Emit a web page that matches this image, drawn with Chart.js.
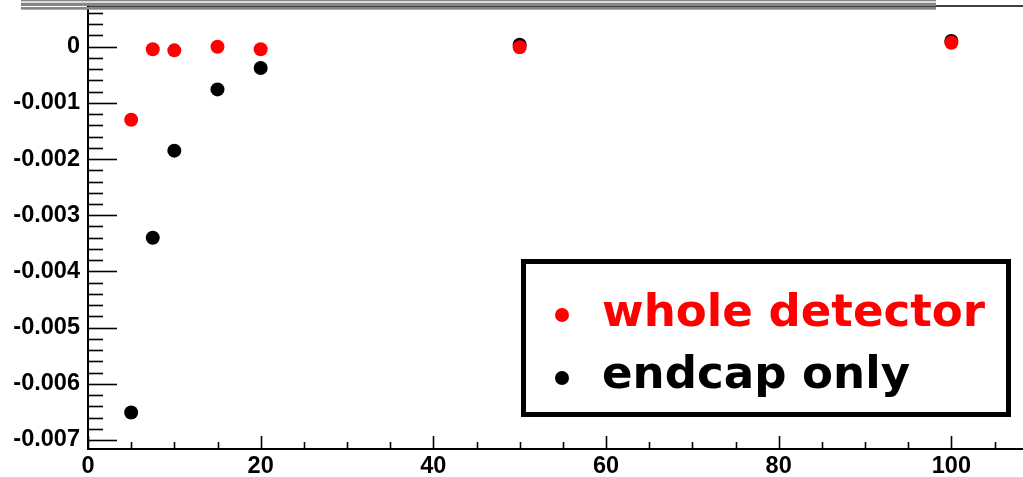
<!DOCTYPE html>
<html>
<head>
<meta charset="utf-8">
<script src="https://cdn.jsdelivr.net/npm/chart.js@4/dist/chart.umd.min.js"></script>
<style>
  html, body { margin: 0; padding: 0; background: #fff; overflow: hidden; }
  #wrap { position: relative; width: 1023px; height: 477px; }
</style>
</head>
<body>
<div id="wrap"><canvas id="c"></canvas></div>
<script>
// ---- data ----
const xValues = [5, 7.5, 10, 15, 20, 50, 100];
const wholeDetector = [-0.0013, -0.000047, -0.000065, 0.0, -0.000047, -0.00001, 0.00007];
const endcapOnly = [-0.00651, -0.0034, -0.00185, -0.00076, -0.00038, 0.000035, 0.0001];
const seriesLabels = ['whole detector', 'endcap only'];
const seriesColors = ['#ff0000', '#000000'];
const xTicks = [0, 20, 40, 60, 80, 100];
const xTickLabels = ['0', '20', '40', '60', '80', '100'];
const yTicks = [0, -0.001, -0.002, -0.003, -0.004, -0.005, -0.006, -0.007];
const yTickLabels = ['0', '-0.001', '-0.002', '-0.003', '-0.004', '-0.005', '-0.006', '-0.007'];
const xMinorStep = 5;
const yMinorStep = 0.0002;

const toPts = (xs, ys) => xs.map((x, i) => ({ x: x, y: ys[i] }));

const tickFont = { family: 'Liberation Sans', size: 23.5, weight: 'bold' };

const framePlugin = {
  id: 'frame',
  beforeDatasetsDraw(chart) {
    const ctx = chart.ctx;
    const xs = chart.scales.x, ys = chart.scales.y;
    const a = chart.chartArea;
    ctx.save();
    ctx.strokeStyle = '#000';
    // top frame line
    ctx.lineWidth = 1.5;
    ctx.beginPath(); ctx.moveTo(a.left, a.top); ctx.lineTo(a.right, a.top); ctx.stroke();
    // axes
    ctx.lineWidth = 2;
    ctx.beginPath();
    ctx.moveTo(a.left, a.top); ctx.lineTo(a.left, a.bottom); ctx.lineTo(a.right, a.bottom);
    ctx.stroke();
    // y ticks
    ctx.lineWidth = 1.6;
    const yMin = ys.min, yMax = ys.max;
    const start = Math.ceil(yMin / yMinorStep);
    const end = Math.floor(yMax / yMinorStep);
    for (let k = start; k <= end; k++) {
      const v = k * yMinorStep;
      const p = Math.round(ys.getPixelForValue(v)) + 0.5;
      const major = (k % 5 === 0);
      ctx.beginPath(); ctx.moveTo(a.left, p); ctx.lineTo(a.left + (major ? 29 : 15), p); ctx.stroke();
    }
    // x ticks
    for (let v = 0; v <= xs.max; v += xMinorStep) {
      const p = Math.round(xs.getPixelForValue(v)) + 0.5;
      const major = (v % 20 === 0);
      ctx.beginPath(); ctx.moveTo(p, a.bottom); ctx.lineTo(p, a.bottom - (major ? 13 : 7)); ctx.stroke();
    }
    ctx.restore();
  },
  afterDraw(chart) {
    const ctx = chart.ctx;
    ctx.save();
    // title box remnants at top (gray stripes)
    ctx.fillStyle = '#858585';
    ctx.fillRect(21, 0, 915, 1.3);
    ctx.fillRect(21, 2.7, 915, 3.3);
    ctx.fillRect(21, 7, 915, 2.7);
    // legend box
    ctx.fillStyle = '#fff';
    ctx.fillRect(523, 261, 485, 153);
    ctx.strokeStyle = '#000';
    ctx.lineWidth = 5;
    ctx.strokeRect(523.5, 261.5, 485, 153);
    // legend entries
    const targetW = 383;
    let size = 45;
    ctx.font = 'bold ' + size + 'px "DejaVu Sans"';
    const w = ctx.measureText(seriesLabels[0]).width;
    size = size * targetW / w;
    ctx.font = 'bold ' + size.toFixed(1) + 'px "DejaVu Sans"';
    ctx.textBaseline = 'alphabetic';
    ctx.textAlign = 'left';
    const baselines = [326, 388];
    const markY = [315, 378];
    chart.data.datasets.forEach((ds, i) => {
      ctx.fillStyle = ds.backgroundColor;
      ctx.beginPath(); ctx.arc(562, markY[i], 7, 0, Math.PI * 2); ctx.fill();
      ctx.fillText(ds.label, 602, baselines[i]);
    });
    ctx.restore();
  }
};

new Chart(document.getElementById('c'), {
  type: 'scatter',
  data: {
    datasets: [
      { label: seriesLabels[0], data: toPts(xValues, wholeDetector), backgroundColor: seriesColors[0], borderColor: seriesColors[0], pointRadius: 7, pointBorderWidth: 0, pointHoverRadius: 7 },
      { label: seriesLabels[1], data: toPts(xValues, endcapOnly), backgroundColor: seriesColors[1], borderColor: seriesColors[1], pointRadius: 7, pointBorderWidth: 0, pointHoverRadius: 7 }
    ]
  },
  options: {
    responsive: true,
    maintainAspectRatio: false,
    animation: false,
    layout: { autoPadding: false, padding: { top: 6, left: 0, right: 0, bottom: 0 } },
    plugins: { legend: { display: false }, tooltip: { enabled: false } },
    scales: {
      x: {
        type: 'linear', min: 0, max: 108.3,
        grid: { display: false, drawTicks: false },
        border: { display: false },
        afterBuildTicks: (s) => { s.ticks = xTicks.map(v => ({ value: v })); },
        afterFit: (s) => { s.height = 28; s.paddingLeft = 0; s.paddingRight = 0; },
        ticks: { color: '#000', font: tickFont, padding: 3, maxRotation: 0, autoSkip: false,
                 callback: (v, i) => xTickLabels[i] }
      },
      y: {
        type: 'linear', min: -0.00716, max: 0.000724,
        grid: { display: false, drawTicks: false },
        border: { display: false },
        afterBuildTicks: (s) => { s.ticks = yTicks.map(v => ({ value: v })); },
        afterFit: (s) => { s.width = 88; s.paddingTop = 0; s.paddingBottom = 0; },
        ticks: { color: '#000', font: tickFont, padding: 8, autoSkip: false,
                 callback: (v, i) => yTickLabels[i] }
      }
    }
  },
  plugins: [framePlugin]
});
</script>
</body>
</html>
